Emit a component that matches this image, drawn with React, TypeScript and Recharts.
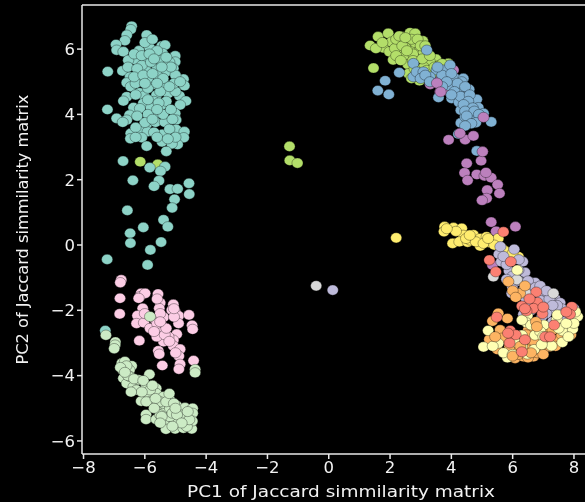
import { ScatterChart, Scatter, XAxis, YAxis, ZAxis, ReferenceLine } from 'recharts';

type Pt = [number, number];

const xTicks = [-8, -6, -4, -2, 0, 2, 4, 6, 8];
const yTicks = [-6, -4, -2, 0, 2, 4, 6];

const lime: Pt[] = [
  [1.35, 6.11], [1.61, 6.38], [1.94, 6.48], [1.46, 5.42], [1.78, 6.04], [1.54, 6.02], [2.05, 6.22], [1.98, 5.92],
  [2.38, 6.38], [2.65, 6.5], [2.82, 6.48], [3.07, 6.25], [2.28, 6.18], [2.63, 6.19], [2.33, 5.95], [2.85, 6.02],
  [2.1, 5.67], [2.44, 5.76], [2.58, 5.53], [3.2, 5.85], [3.5, 5.69], [3.3, 5.61], [3.9, 5.56], [2.92, 5.76],
  [2.6, 5.25], [2.96, 5.03], [3.41, 5.2], [2.49, 6.07], [2.16, 6.02], [2.82, 6.2], [2.98, 5.97], [3.6, 5.5],
  [2.75, 5.85], [2.2, 6.3], [3.1, 5.45], [3.35, 4.95],
  [2.4, 6.1], [2.55, 5.95], [2.7, 6.3], [2.9, 6.3], [2.2, 5.8], [2.75, 5.65], [3.1, 5.9], [3.05, 5.7],
  [3.3, 5.8], [3.7, 5.55], [2.35, 5.65], [2.8, 5.4], [3.2, 5.35], [2.7, 5.1], [1.75, 6.2], [2.3, 6.4],
  [2.5, 6.35], [3.0, 6.1], [3.15, 6.1], [3.45, 5.45],
  [-1.28, 3.02], [-1.27, 2.59], [-1.02, 2.51], [-6.15, 2.55], [-5.58, 2.47],
];

const teal: Pt[] = [
  [-6.43, 6.7], [-6.46, 6.6], [-6.59, 6.43], [-5.94, 6.43], [-6.65, 6.26], [-6.94, 6.14], [-6.92, 5.97], [-6.7, 5.92],
  [-5.45, 6.09], [-5.34, 6.12], [-5.85, 6.05], [-6.19, 5.95], [-5.01, 5.79], [-5.42, 5.87], [-6.32, 5.68], [-6.54, 5.66],
  [-5.99, 5.71], [-5.5, 5.66], [-5.01, 5.61], [-5.07, 5.41], [-7.21, 5.31], [-6.73, 5.33], [-6.21, 5.23], [-6.48, 5.15],
  [-5.94, 5.34], [-5.61, 5.39], [-5.29, 5.31], [-4.74, 5.08], [-4.71, 4.88], [-5.34, 4.92], [-5.7, 4.92], [-6.15, 5.0],
  [-6.59, 4.97], [-6.46, 4.85], [-6.18, 4.66], [-6.02, 4.57], [-5.62, 4.59], [-5.24, 4.64], [-4.87, 4.57], [-4.66, 4.41],
  [-6.59, 4.54], [-6.7, 4.41], [-5.45, 4.29], [-6.05, 4.34], [-6.37, 4.21], [-7.22, 4.15], [-4.85, 4.29], [-5.7, 3.98],
  [-6.16, 4.18], [-5.01, 4.03], [-4.98, 3.83], [-6.92, 3.88], [-6.5, 3.98], [-6.59, 3.83], [-6.72, 3.76], [-5.94, 3.7],
  [-5.65, 3.76], [-5.35, 3.76], [-4.98, 3.54], [-4.71, 3.47], [-6.46, 3.42], [-6.47, 3.26], [-6.1, 3.52], [-5.91, 3.47],
  [-5.43, 3.39], [-4.73, 3.29], [-4.93, 3.08], [-5.44, 3.16], [-5.12, 3.1], [-6.1, 3.29], [-5.94, 3.03], [-5.3, 2.87],
  [-6.71, 2.57], [-5.84, 2.37], [-5.34, 2.4], [-5.49, 2.26], [-6.39, 1.98], [-5.54, 1.97], [-5.7, 1.8], [-5.18, 1.71],
  [-4.93, 1.72], [-4.56, 1.89], [-4.55, 1.56], [-5.03, 1.4], [-5.11, 1.14], [-6.57, 1.06], [-5.39, 0.77], [-5.25, 0.56],
  [-6.05, 0.54], [-6.48, 0.36], [-6.47, 0.06], [-5.47, 0.09], [-5.82, -0.15], [-7.23, -0.44], [-5.91, -0.61], [-7.29, -2.62],
  [-6.1, 5.5], [-5.8, 5.6], [-5.6, 5.2], [-5.2, 5.6], [-5.0, 5.2], [-5.9, 5.1], [-5.4, 5.1], [-5.9, 4.8],
  [-5.5, 4.7], [-5.0, 4.7], [-5.7, 4.4], [-5.3, 4.4], [-6.3, 4.95], [-5.8, 4.2], [-5.4, 4.0], [-5.9, 4.0],
  [-6.0, 3.75], [-5.2, 3.55], [-5.7, 3.45], [-5.0, 3.3], [-5.6, 5.95], [-6.0, 6.2], [-5.75, 6.3], [-6.55, 5.45],
  [-6.25, 5.4], [-5.05, 4.95], [-5.6, 4.95],
  [-6.35, 5.85], [-6.1, 5.8], [-5.85, 5.85], [-5.7, 5.7], [-5.3, 5.75], [-5.15, 5.45], [-6.35, 5.15], [-6.05, 5.2],
  [-5.75, 5.25], [-5.45, 5.45], [-6.3, 4.6], [-5.9, 4.45], [-5.55, 4.35], [-5.15, 4.15], [-5.6, 4.15], [-6.25, 3.95],
  [-5.6, 3.3], [-5.25, 3.25], [-6.3, 3.6], [-6.0, 4.95], [-5.2, 4.85], [-4.85, 5.0], [-5.75, 3.85], [-5.1, 3.85],
  [-6.3, 3.3],
];

const pink: Pt[] = [
  [-6.77, -1.07], [-6.8, -1.15], [-6.81, -1.63], [-6.82, -2.11], [-6.18, -2.93], [-6.12, -1.48], [-6.16, -1.58], [-5.99, -1.48],
  [-6.2, -1.63], [-5.57, -1.5], [-5.5, -1.77], [-5.53, -1.94], [-6.07, -1.94], [-6.24, -2.16], [-6.27, -2.4], [-6.03, -2.38],
  [-5.07, -1.82], [-5.01, -2.04], [-4.9, -2.17], [-4.56, -2.14], [-4.9, -2.4], [-4.46, -2.46], [-4.44, -2.58], [-5.39, -2.21],
  [-5.45, -2.45], [-5.45, -2.6], [-5.63, -2.6], [-5.5, -2.81], [-4.96, -2.73], [-5.07, -2.91], [-5.39, -2.96], [-5.07, -3.09],
  [-4.85, -3.19], [-5.56, -3.24], [-5.53, -3.34], [-4.89, -3.4], [-5.43, -3.69], [-4.85, -3.65], [-4.89, -3.8], [-4.41, -3.54],
  [-5.61, -2.81], [-5.23, -2.81], [-5.83, -2.55], [-5.12, -1.99], [-5.67, -2.28],
  [-5.6, -2.4], [-5.35, -2.75], [-5.6, -1.65], [-5.5, -2.1], [-5.3, -2.55], [-5.7, -2.65], [-5.2, -2.95], [-5.0, -3.3],
  [-5.5, -2.35], [-5.05, -2.2], [-5.05, -1.95], [-6.0, -2.1],
];

const lightGreen: Pt[] = [
  [-7.27, -2.76], [-6.96, -2.97], [-6.97, -3.06], [-7.0, -3.17], [-5.83, -2.19], [-6.75, -3.62], [-6.65, -3.57], [-6.72, -3.83],
  [-6.43, -3.7], [-6.5, -3.83], [-5.85, -3.96], [-6.7, -4.08], [-6.59, -4.24], [-6.37, -4.34], [-6.21, -4.13], [-5.96, -4.29],
  [-5.63, -4.39], [-5.63, -4.54], [-5.94, -4.61], [-6.12, -4.78], [-5.83, -4.8], [-5.39, -4.64], [-5.18, -4.75], [-4.96, -4.92],
  [-4.69, -4.98], [-4.44, -5.0], [-4.44, -5.15], [-5.59, -5.0], [-5.31, -5.08], [-5.39, -4.85], [-5.96, -5.19], [-5.96, -5.34],
  [-5.63, -5.34], [-5.01, -5.39], [-5.34, -5.51], [-5.31, -5.64], [-5.01, -5.63], [-4.74, -5.61], [-4.47, -5.63], [-4.45, -5.39],
  [-4.72, -5.36], [-4.36, -3.81], [-4.36, -3.91], [-6.48, -4.03], [-6.27, -4.44], [-5.83, -4.44], [-5.5, -4.8], [-5.18, -5.0],
  [-5.18, -5.26], [-5.5, -5.2], [-4.85, -5.2], [-4.63, -5.56],
  [-6.6, -3.7], [-6.55, -4.0], [-6.35, -4.1], [-6.05, -4.15], [-6.1, -4.5], [-5.75, -4.3], [-5.95, -4.8], [-5.65, -4.7],
  [-5.7, -5.0], [-5.3, -4.8], [-5.05, -4.85], [-5.2, -4.55], [-5.45, -5.25], [-5.1, -5.15], [-4.95, -5.2], [-5.0, -5.0],
  [-4.55, -5.35], [-4.8, -5.45], [-5.1, -5.55], [-5.5, -5.45], [-4.6, -5.1], [-6.8, -3.75], [-6.45, -4.5], [-6.65, -3.9],
];

const purple: Pt[] = [
  [3.31, 4.92], [3.65, 5.07], [3.53, 4.96], [3.63, 4.69], [3.96, 4.66], [4.07, 5.36], [4.5, 3.8], [4.28, 3.42],
  [3.91, 3.22], [4.45, 3.23], [4.72, 3.34], [5.02, 2.86], [4.97, 2.58], [4.5, 2.5], [4.43, 2.21], [4.53, 1.98],
  [4.83, 2.16], [5.08, 2.12], [5.3, 2.06], [5.51, 1.85], [5.17, 1.68], [5.57, 1.58], [5.15, 1.43], [5.0, 1.37],
  [5.13, 2.22], [5.3, 0.7], [5.46, 0.42], [6.09, 0.56], [5.34, -0.61],
];

const blue: Pt[] = [
  [2.3, 5.28], [1.84, 5.03], [1.6, 4.73], [1.96, 4.61], [2.76, 5.56], [2.76, 5.15], [2.87, 5.3], [3.09, 5.3],
  [3.2, 5.97], [3.58, 4.52], [3.85, 5.33], [4.12, 5.1], [4.39, 5.1], [3.96, 4.87], [4.34, 5.0], [4.26, 4.74],
  [4.58, 4.77], [4.43, 4.56], [4.01, 4.49], [4.25, 4.37], [4.69, 4.42], [4.83, 4.46], [4.31, 4.13], [4.88, 4.21],
  [4.64, 4.04], [5.05, 4.03], [4.74, 3.88], [5.3, 3.77], [4.31, 3.74], [4.56, 3.74], [4.23, 3.4], [4.83, 2.88],
  [3.52, 5.36], [3.74, 5.36], [3.3, 5.15], [3.96, 5.51], [4.5, 4.54], [4.56, 4.23], [4.45, 3.93],
  [3.0, 5.1], [3.15, 5.2], [3.3, 5.0], [3.7, 5.2], [3.55, 5.45], [4.0, 5.25], [4.2, 4.95], [4.1, 4.7],
  [4.45, 4.85], [4.3, 4.55], [4.6, 4.6], [4.55, 4.4], [4.4, 4.3], [4.7, 4.2], [4.45, 4.1], [4.75, 4.1],
  [4.9, 4.0], [4.5, 3.95], [4.8, 3.75], [4.65, 3.72], [4.45, 3.65], [3.85, 5.0], [3.7, 4.85], [4.0, 4.6],
];

const purpleTop: Pt[] = [
  [3.53, 4.96], [3.65, 4.69], [5.05, 3.91], [4.28, 3.42], [5.02, 2.86],
];

const yellow: Pt[] = [
  [3.78, 0.56], [3.76, 0.41], [4.07, 0.53], [4.34, 0.51], [4.04, 0.05], [4.39, 0.3], [4.26, 0.1], [4.53, 0.09],
  [4.72, 0.31], [4.94, 0.2], [4.94, -0.03], [5.26, 0.07], [5.62, -0.07], [5.53, 0.2], [5.81, -0.21], [6.19, -0.36],
  [5.15, 0.25], [4.61, 0.15], [5.92, -0.36], [2.2, 0.22],
  [4.15, 0.42], [4.48, 0.2], [4.8, 0.1], [5.05, 0.05], [5.4, 0.0], [5.7, -0.15], [6.0, -0.25], [3.85, 0.5],
  [4.6, 0.3], [5.2, 0.2],
];

const lavender: Pt[] = [
  [5.55, -0.28], [6.05, -0.13], [5.63, -0.51], [6.33, -0.51], [6.4, -0.84], [5.88, -0.79], [6.73, -1.15], [5.99, -1.28],
  [5.97, -1.48], [7.02, -1.51], [6.35, -1.38], [7.38, -1.63], [7.11, -1.86], [7.55, -1.77], [7.71, -2.0], [7.38, -2.0],
  [8.09, -2.21], [7.87, -2.3], [6.35, -2.12], [6.57, -1.63], [6.19, -0.77], [7.31, -1.5], [0.13, -1.38],
  [5.6, -0.05], [5.8, -0.6], [6.0, -0.95], [6.2, -1.1], [6.5, -1.1], [6.6, -1.35], [6.85, -1.45], [6.2, -1.5],
  [6.45, -1.75], [6.9, -1.7], [7.2, -1.65], [7.6, -1.95], [7.1, -2.1], [7.5, -2.2], [7.8, -2.1], [8.0, -1.95],
  [7.65, -2.35], [7.3, -2.35], [6.6, -2.0], [6.2, -0.45], [5.7, -0.35], [6.75, -1.3], [7.45, -1.85],
  [6.9, -1.25], [7.1, -1.4], [6.4, -1.6], [5.8, -1.05], [7.3, -1.85], [6.95, -2.2],
];

const grey: Pt[] = [
  [5.37, -0.97], [6.14, -1.06], [6.46, -1.5], [7.33, -1.48], [-0.41, -1.25],
];

const orange: Pt[] = [
  [5.53, -2.09], [5.34, -2.33], [5.83, -2.25], [5.86, -1.12], [6.24, -1.48], [5.24, -2.89],
  [5.72, -3.3], [5.86, -2.96], [6.08, -2.76], [6.35, -2.96], [6.57, -3.11], [6.08, -3.47], [6.35, -3.42],
  [6.68, -3.42], [7.0, -3.21], [7.22, -3.11], [6.9, -2.96], [6.24, -3.16], [5.59, -2.6], [6.02, -3.01], [6.84, -3.16],
  [6.51, -2.6], [5.95, -3.35], [6.45, -3.2], [6.8, -3.3], [6.1, -3.2], [7.4, -2.9],
  [6.0, -1.4], [6.1, -1.6], [6.4, -1.25], [6.55, -2.35], [6.95, -2.6], [7.15, -2.6], [6.6, -2.8], [6.45, -2.75],
  [5.65, -2.85], [5.5, -3.2], [5.9, -3.1], [6.2, -3.35], [6.5, -3.45], [7.1, -3.0], [7.4, -3.1], [7.6, -2.75],
  [7.3, -2.6], [7.9, -2.75], [5.95, -2.7], [7.0, -3.35], [6.2, -2.95], [6.7, -2.95],
];

const lightYellow: Pt[] = [
  [5.2, -2.62], [5.05, -3.12], [5.53, -3.01], [5.83, -3.45], [6.3, -2.76], [6.11, -2.98], [6.48, -3.34], [6.73, -2.76],
  [6.48, -2.17], [6.46, -2.38], [7.02, -2.45], [7.44, -2.28], [7.46, -2.14], [7.63, -2.63], [7.96, -2.57], [7.62, -2.98],
  [7.82, -2.81], [7.27, -3.09], [6.15, -0.77], [8.12, -2.19], [6.6, -2.45], [8.0, -2.4],
  [5.7, -3.3], [6.9, -2.65], [7.5, -2.55], [7.75, -2.4], [6.3, -3.1], [6.7, -3.2], [7.0, -2.8], [8.05, -2.05],
  [5.35, -3.1], [6.0, -3.35], [6.95, -3.05], [6.3, -2.3],
];

const orangeTop: Pt[] = [
  [6.76, -2.35], [6.79, -2.5], [5.43, -2.81], [6.0, -3.4], [6.25, -3.1], [6.6, -3.3],
];

const red: Pt[] = [
  [5.7, 0.4], [5.24, -0.46], [5.45, -0.82], [5.94, -0.51], [6.77, -1.44], [6.81, -1.76], [6.3, -1.87], [6.68, -1.94],
  [6.97, -2.1], [7.93, -1.89], [7.87, -2.12], [5.48, -2.21], [5.92, -2.62], [7.06, -2.81], [7.22, -2.81], [6.3, -3.27],
  [6.45, -2.02], [6.55, -1.65], [6.1, -2.75], [5.9, -3.0], [7.0, -1.9], [6.4, -1.95], [7.75, -2.05], [5.85, -2.7],
  [6.4, -2.9], [7.35, -2.45],
];

const seriesList: { name: string; color: string; values: Pt[] }[] = [
  { name: 'lime', color: '#b3de69', values: lime },
  { name: 'teal', color: '#8dd3c7', values: teal },
  { name: 'pink', color: '#fccde5', values: pink },
  { name: 'lightGreen', color: '#ccebc5', values: lightGreen },
  { name: 'purple', color: '#bc80bd', values: purple },
  { name: 'blue', color: '#80b1d3', values: blue },
  { name: 'purpleTop', color: '#bc80bd', values: purpleTop },
  { name: 'yellow', color: '#ffed6f', values: yellow },
  { name: 'lavender', color: '#bebada', values: lavender },
  { name: 'grey', color: '#d9d9d9', values: grey },
  { name: 'orange', color: '#fdb462', values: orange },
  { name: 'lightYellow', color: '#ffffb3', values: lightYellow },
  { name: 'orangeTop', color: '#fdb462', values: orangeTop },
  { name: 'red', color: '#fb8072', values: red },
];

const toRows = (values: Pt[]) => values.map(([pc1, pc2]) => ({ pc1, pc2 }));
const minusSign = (v: number) => String(v).replace('-', '\u2212');

const axisColor = '#e8e8e8';
const textStyle = { fill: '#f2f2f2', fontSize: 16.5, fontFamily: 'DejaVu Sans' };

// the source image is stretched sideways, so markers are slightly wider than tall
function Dot(props: any) {
  return <ellipse cx={props.cx} cy={props.cy} rx={5.6} ry={5.1} fill={props.fill} stroke="#000" strokeOpacity={0.55} strokeWidth={0.6} />;
}

function XLabel(props: any) {
  const { x, y, width } = props.viewBox;
  return (
    <text x={x + width / 2 + 7.5} y={y + 43} textAnchor="middle" textLength={308} lengthAdjust="spacingAndGlyphs" {...textStyle}>
      PC1 of Jaccard simmilarity matrix
    </text>
  );
}

export default function App() {
  return (
    <div style={{ position: 'absolute', left: 0, top: 0, width: 585, height: 502, background: '#000', overflow: 'hidden', filter: 'blur(0.4px)' }}>
      <ScatterChart width={585} height={502} margin={{ top: 5, right: 0, bottom: 0, left: 0 }}>
        <XAxis
          type="number"
          dataKey="pc1"
          domain={[-8.05, 8.36]}
          ticks={xTicks}
          interval={0}
          height={48}
          stroke={axisColor}
          strokeWidth={1.5}
          tick={textStyle}
          tickSize={5}
          tickFormatter={minusSign}
          label={{ content: XLabel }}
        />
        <YAxis
          type="number"
          dataKey="pc2"
          domain={[-6.4, 7.35]}
          ticks={yTicks}
          interval={0}
          width={82}
          stroke={axisColor}
          strokeWidth={1.5}
          tick={textStyle}
          tickSize={5}
          tickFormatter={minusSign}
          label={{ value: 'PC2 of Jaccard simmilarity matrix', angle: -90, position: 'insideLeft', offset: 22, dy: 135, style: { ...textStyle, fontSize: 16.2 } }}
        />
        <ZAxis range={[70, 70]} />
        <ReferenceLine y={7.35} stroke={axisColor} strokeWidth={1.5} />
        {seriesList.map((s) => (
          <Scatter
            key={s.name}
            name={s.name}
            data={toRows(s.values)}
            fill={s.color}
            shape={Dot}
            isAnimationActive={false}
          />
        ))}
      </ScatterChart>
    </div>
  );
}
